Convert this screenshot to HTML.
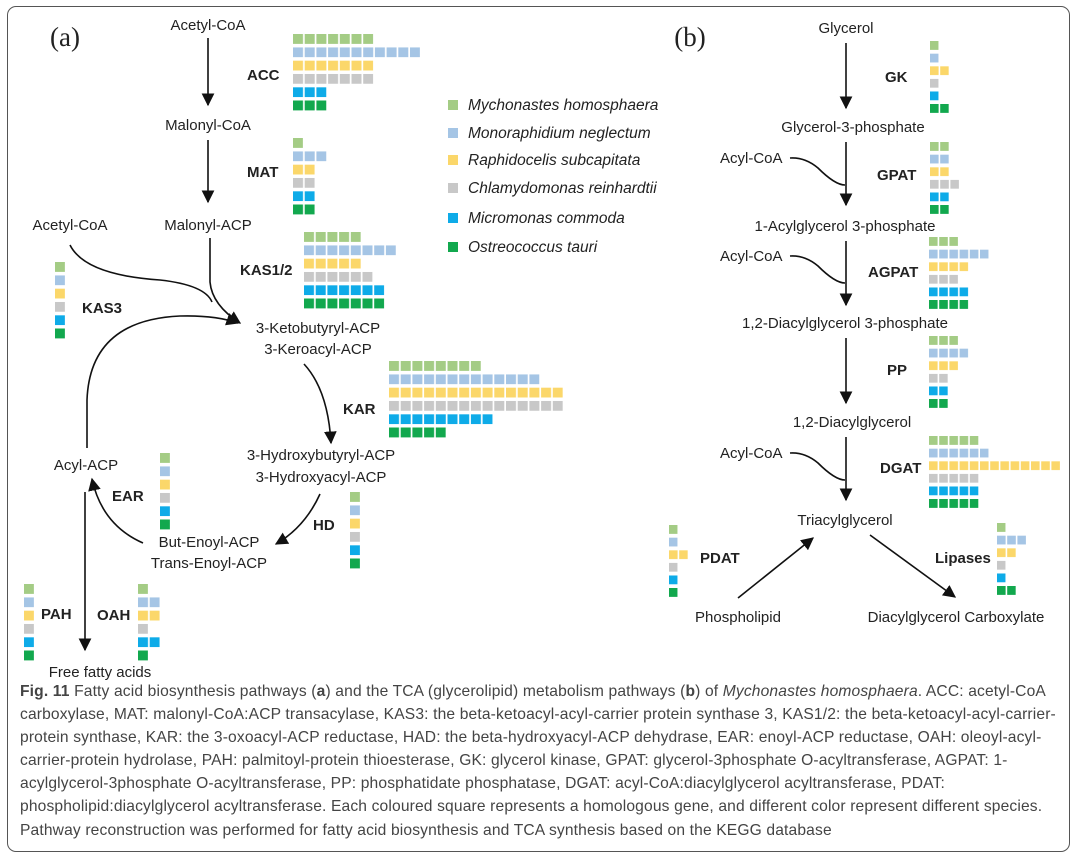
<!DOCTYPE html>
<html><head><meta charset="utf-8"><style>
body{margin:0;background:#fff;width:1080px;height:860px;overflow:hidden;font-family:"Liberation Sans",sans-serif}
.frame{position:absolute;left:7px;top:6px;width:1063px;height:846px;border:1.5px solid #555;border-radius:9px;box-sizing:border-box}
.cap{position:absolute;left:20px;top:680px;font-size:15.6px;letter-spacing:0.15px;line-height:23.1px;color:#444;white-space:nowrap}
svg{position:absolute;left:0;top:0}
svg text{font-family:"Liberation Sans",sans-serif;font-size:15px;fill:#222}
.b{font-weight:bold;font-size:15px}
.i{font-style:italic;font-size:15.5px}
.s{font-family:"Liberation Serif",serif;font-size:27px}
</style></head><body>
<div class="frame"></div>
<svg width="1080" height="860" viewBox="0 0 1080 860">
<defs>
<marker id="ah" viewBox="0 0 10 10" refX="9" refY="5" markerWidth="8" markerHeight="8" orient="auto"><path d="M0,0L10,5L0,10z" fill="#111"/></marker>
<pattern id="c0" width="11.7" height="13.3" patternUnits="userSpaceOnUse"><rect width="10" height="10" fill="#a4cc85"/></pattern>
<pattern id="c1" width="11.7" height="13.3" patternUnits="userSpaceOnUse"><rect width="10" height="10" fill="#a5c5e5"/></pattern>
<pattern id="c2" width="11.7" height="13.3" patternUnits="userSpaceOnUse"><rect width="10" height="10" fill="#fbd76a"/></pattern>
<pattern id="c3" width="11.7" height="13.3" patternUnits="userSpaceOnUse"><rect width="10" height="10" fill="#c8c8c8"/></pattern>
<pattern id="c4" width="11.7" height="13.3" patternUnits="userSpaceOnUse"><rect width="10" height="10" fill="#0eabe8"/></pattern>
<pattern id="c5" width="11.7" height="13.3" patternUnits="userSpaceOnUse"><rect width="10" height="10" fill="#12a84e"/></pattern>
<pattern id="d0" width="10.2" height="12.6" patternUnits="userSpaceOnUse"><rect width="8.6" height="9" fill="#a4cc85"/></pattern>
<pattern id="d1" width="10.2" height="12.6" patternUnits="userSpaceOnUse"><rect width="8.6" height="9" fill="#a5c5e5"/></pattern>
<pattern id="d2" width="10.2" height="12.6" patternUnits="userSpaceOnUse"><rect width="8.6" height="9" fill="#fbd76a"/></pattern>
<pattern id="d3" width="10.2" height="12.6" patternUnits="userSpaceOnUse"><rect width="8.6" height="9" fill="#c8c8c8"/></pattern>
<pattern id="d4" width="10.2" height="12.6" patternUnits="userSpaceOnUse"><rect width="8.6" height="9" fill="#0eabe8"/></pattern>
<pattern id="d5" width="10.2" height="12.6" patternUnits="userSpaceOnUse"><rect width="8.6" height="9" fill="#12a84e"/></pattern>
</defs>
<g fill="none" stroke="#111" stroke-width="1.6">
<path d="M208,38V105" marker-end="url(#ah)"/>
<path d="M208,140V202" marker-end="url(#ah)"/>
<path d="M210,238V282Q212,305 240,323" marker-end="url(#ah)"/>
<path d="M70,245Q85,275 160,280Q205,285 212,302"/>
<path d="M87,448V400Q90,320 180,316Q215,315 238,323" marker-end="url(#ah)"/>
<path d="M304,364Q328,390 331,443" marker-end="url(#ah)"/>
<path d="M320,494Q305,527 276,544" marker-end="url(#ah)"/>
<path d="M143,543Q102,525 92,479" marker-end="url(#ah)"/>
<path d="M85,492V650" marker-end="url(#ah)"/>
<path d="M846,43V108" marker-end="url(#ah)"/>
<path d="M846,142V205" marker-end="url(#ah)"/>
<path d="M790,158Q805,157 818,168Q835,185 845,185"/>
<path d="M846,241V305" marker-end="url(#ah)"/>
<path d="M790,256Q805,255 818,266Q835,283 845,283"/>
<path d="M846,338V403" marker-end="url(#ah)"/>
<path d="M846,437V500" marker-end="url(#ah)"/>
<path d="M790,453Q805,452 818,463Q835,480 845,480"/>
<path d="M738,598L813,538" marker-end="url(#ah)"/>
<path d="M870,535L955,597" marker-end="url(#ah)"/>
</g>
<g>
<text x="65" y="46" class="s" text-anchor="middle">(a)</text>
<text x="690" y="46" class="s" text-anchor="middle">(b)</text>
<g text-anchor="middle">
<text x="208" y="30">Acetyl-CoA</text>
<text x="208" y="130">Malonyl-CoA</text>
<text x="208" y="230">Malonyl-ACP</text>
<text x="70" y="230">Acetyl-CoA</text>
<text x="318" y="333">3-Ketobutyryl-ACP</text>
<text x="318" y="354">3-Keroacyl-ACP</text>
<text x="321" y="460">3-Hydroxybutyryl-ACP</text>
<text x="321" y="482">3-Hydroxyacyl-ACP</text>
<text x="209" y="547">But-Enoyl-ACP</text>
<text x="209" y="568">Trans-Enoyl-ACP</text>
<text x="86" y="470">Acyl-ACP</text>
<text x="100" y="677">Free fatty acids</text>
<text x="846" y="33">Glycerol</text>
<text x="853" y="132">Glycerol-3-phosphate</text>
<text x="845" y="231">1-Acylglycerol 3-phosphate</text>
<text x="845" y="328">1,2-Diacylglycerol 3-phosphate</text>
<text x="852" y="427">1,2-Diacylglycerol</text>
<text x="845" y="525">Triacylglycerol</text>
<text x="738" y="622">Phospholipid</text>
<text x="956" y="622">Diacylglycerol Carboxylate</text>
</g>
<text x="720" y="163">Acyl-CoA</text>
<text x="720" y="261">Acyl-CoA</text>
<text x="720" y="458">Acyl-CoA</text>
<text x="247" y="80" class="b">ACC</text>
<text x="247" y="177" class="b">MAT</text>
<text x="240" y="275" class="b">KAS1/2</text>
<text x="82" y="313" class="b">KAS3</text>
<text x="343" y="414" class="b">KAR</text>
<text x="313" y="530" class="b">HD</text>
<text x="112" y="501" class="b">EAR</text>
<text x="41" y="619" class="b">PAH</text>
<text x="97" y="620" class="b">OAH</text>
<text x="885" y="82" class="b">GK</text>
<text x="877" y="180" class="b">GPAT</text>
<text x="868" y="277" class="b">AGPAT</text>
<text x="887" y="375" class="b">PP</text>
<text x="880" y="473" class="b">DGAT</text>
<text x="700" y="563" class="b">PDAT</text>
<text x="935" y="563" class="b">Lipases</text>
<text x="468" y="110" class="i">Mychonastes homosphaera</text>
<text x="468" y="138" class="i">Monoraphidium neglectum</text>
<text x="468" y="165" class="i">Raphidocelis subcapitata</text>
<text x="468" y="193" class="i">Chlamydomonas reinhardtii</text>
<text x="468" y="223" class="i">Micromonas commoda</text>
<text x="468" y="252" class="i">Ostreococcus tauri</text>
</g>
<rect x="448" y="100" width="10" height="10" fill="#a4cc85"/>
<rect x="448" y="128" width="10" height="10" fill="#a5c5e5"/>
<rect x="448" y="155" width="10" height="10" fill="#fbd76a"/>
<rect x="448" y="183" width="10" height="10" fill="#c8c8c8"/>
<rect x="448" y="213" width="10" height="10" fill="#0eabe8"/>
<rect x="448" y="242" width="10" height="10" fill="#12a84e"/>
<g transform="translate(293,34)"><rect y="0" width="80.2" height="10" fill="url(#c0)"/><rect y="13.3" width="127" height="10" fill="url(#c1)"/><rect y="26.6" width="80.2" height="10" fill="url(#c2)"/><rect y="39.9" width="80.2" height="10" fill="url(#c3)"/><rect y="53.2" width="33.4" height="10" fill="url(#c4)"/><rect y="66.5" width="33.4" height="10" fill="url(#c5)"/></g>
<g transform="translate(293,138)"><rect y="0" width="10" height="10" fill="url(#c0)"/><rect y="13.3" width="33.4" height="10" fill="url(#c1)"/><rect y="26.6" width="21.7" height="10" fill="url(#c2)"/><rect y="39.9" width="21.7" height="10" fill="url(#c3)"/><rect y="53.2" width="21.7" height="10" fill="url(#c4)"/><rect y="66.5" width="21.7" height="10" fill="url(#c5)"/></g>
<g transform="translate(304,232)"><rect y="0" width="56.8" height="10" fill="url(#c0)"/><rect y="13.3" width="91.9" height="10" fill="url(#c1)"/><rect y="26.6" width="56.8" height="10" fill="url(#c2)"/><rect y="39.9" width="68.5" height="10" fill="url(#c3)"/><rect y="53.2" width="80.2" height="10" fill="url(#c4)"/><rect y="66.5" width="80.2" height="10" fill="url(#c5)"/></g>
<g transform="translate(55,262)"><rect y="0" width="10" height="10" fill="url(#c0)"/><rect y="13.3" width="10" height="10" fill="url(#c1)"/><rect y="26.6" width="10" height="10" fill="url(#c2)"/><rect y="39.9" width="10" height="10" fill="url(#c3)"/><rect y="53.2" width="10" height="10" fill="url(#c4)"/><rect y="66.5" width="10" height="10" fill="url(#c5)"/></g>
<g transform="translate(389,361)"><rect y="0" width="91.9" height="10" fill="url(#c0)"/><rect y="13.3" width="150.4" height="10" fill="url(#c1)"/><rect y="26.6" width="173.8" height="10" fill="url(#c2)"/><rect y="39.9" width="173.8" height="10" fill="url(#c3)"/><rect y="53.2" width="103.6" height="10" fill="url(#c4)"/><rect y="66.5" width="56.8" height="10" fill="url(#c5)"/></g>
<g transform="translate(160,453)"><rect y="0" width="10" height="10" fill="url(#c0)"/><rect y="13.3" width="10" height="10" fill="url(#c1)"/><rect y="26.6" width="10" height="10" fill="url(#c2)"/><rect y="39.9" width="10" height="10" fill="url(#c3)"/><rect y="53.2" width="10" height="10" fill="url(#c4)"/><rect y="66.5" width="10" height="10" fill="url(#c5)"/></g>
<g transform="translate(350,492)"><rect y="0" width="10" height="10" fill="url(#c0)"/><rect y="13.3" width="10" height="10" fill="url(#c1)"/><rect y="26.6" width="10" height="10" fill="url(#c2)"/><rect y="39.9" width="10" height="10" fill="url(#c3)"/><rect y="53.2" width="10" height="10" fill="url(#c4)"/><rect y="66.5" width="10" height="10" fill="url(#c5)"/></g>
<g transform="translate(24,584)"><rect y="0" width="10" height="10" fill="url(#c0)"/><rect y="13.3" width="10" height="10" fill="url(#c1)"/><rect y="26.6" width="10" height="10" fill="url(#c2)"/><rect y="39.9" width="10" height="10" fill="url(#c3)"/><rect y="53.2" width="10" height="10" fill="url(#c4)"/><rect y="66.5" width="10" height="10" fill="url(#c5)"/></g>
<g transform="translate(138,584)"><rect y="0" width="10" height="10" fill="url(#c0)"/><rect y="13.3" width="21.7" height="10" fill="url(#c1)"/><rect y="26.6" width="21.7" height="10" fill="url(#c2)"/><rect y="39.9" width="10" height="10" fill="url(#c3)"/><rect y="53.2" width="21.7" height="10" fill="url(#c4)"/><rect y="66.5" width="10" height="10" fill="url(#c5)"/></g>
<g transform="translate(930,41)"><rect y="0" width="8.6" height="9" fill="url(#d0)"/><rect y="12.6" width="8.6" height="9" fill="url(#d1)"/><rect y="25.2" width="18.8" height="9" fill="url(#d2)"/><rect y="37.8" width="8.6" height="9" fill="url(#d3)"/><rect y="50.4" width="8.6" height="9" fill="url(#d4)"/><rect y="63" width="18.8" height="9" fill="url(#d5)"/></g>
<g transform="translate(930,142)"><rect y="0" width="18.8" height="9" fill="url(#d0)"/><rect y="12.6" width="18.8" height="9" fill="url(#d1)"/><rect y="25.2" width="18.8" height="9" fill="url(#d2)"/><rect y="37.8" width="29" height="9" fill="url(#d3)"/><rect y="50.4" width="18.8" height="9" fill="url(#d4)"/><rect y="63" width="18.8" height="9" fill="url(#d5)"/></g>
<g transform="translate(929,237)"><rect y="0" width="29" height="9" fill="url(#d0)"/><rect y="12.6" width="59.6" height="9" fill="url(#d1)"/><rect y="25.2" width="39.2" height="9" fill="url(#d2)"/><rect y="37.8" width="29" height="9" fill="url(#d3)"/><rect y="50.4" width="39.2" height="9" fill="url(#d4)"/><rect y="63" width="39.2" height="9" fill="url(#d5)"/></g>
<g transform="translate(929,336)"><rect y="0" width="29" height="9" fill="url(#d0)"/><rect y="12.6" width="39.2" height="9" fill="url(#d1)"/><rect y="25.2" width="29" height="9" fill="url(#d2)"/><rect y="37.8" width="18.8" height="9" fill="url(#d3)"/><rect y="50.4" width="18.8" height="9" fill="url(#d4)"/><rect y="63" width="18.8" height="9" fill="url(#d5)"/></g>
<g transform="translate(929,436)"><rect y="0" width="49.4" height="9" fill="url(#d0)"/><rect y="12.6" width="59.6" height="9" fill="url(#d1)"/><rect y="25.2" width="131" height="9" fill="url(#d2)"/><rect y="37.8" width="49.4" height="9" fill="url(#d3)"/><rect y="50.4" width="49.4" height="9" fill="url(#d4)"/><rect y="63" width="49.4" height="9" fill="url(#d5)"/></g>
<g transform="translate(997,523)"><rect y="0" width="8.6" height="9" fill="url(#d0)"/><rect y="12.6" width="29" height="9" fill="url(#d1)"/><rect y="25.2" width="18.8" height="9" fill="url(#d2)"/><rect y="37.8" width="8.6" height="9" fill="url(#d3)"/><rect y="50.4" width="8.6" height="9" fill="url(#d4)"/><rect y="63" width="18.8" height="9" fill="url(#d5)"/></g>
<g transform="translate(669,525)"><rect y="0" width="8.6" height="9" fill="url(#d0)"/><rect y="12.6" width="8.6" height="9" fill="url(#d1)"/><rect y="25.2" width="18.8" height="9" fill="url(#d2)"/><rect y="37.8" width="8.6" height="9" fill="url(#d3)"/><rect y="50.4" width="8.6" height="9" fill="url(#d4)"/><rect y="63" width="8.6" height="9" fill="url(#d5)"/></g>
</svg>
<div class="cap">
<div><b>Fig. 11</b> Fatty acid biosynthesis pathways (<b>a</b>) and the TCA (glycerolipid) metabolism pathways (<b>b</b>) of <i>Mychonastes homosphaera</i>. ACC: acetyl-CoA</div>
<div>carboxylase, MAT: malonyl-CoA:ACP transacylase, KAS3: the beta-ketoacyl-acyl-carrier protein synthase 3, KAS1/2: the beta-ketoacyl-acyl-carrier-</div>
<div>protein synthase, KAR: the 3-oxoacyl-ACP reductase, HAD: the beta-hydroxyacyl-ACP dehydrase, EAR: enoyl-ACP reductase, OAH: oleoyl-acyl-</div>
<div>carrier-protein hydrolase, PAH: palmitoyl-protein thioesterase, GK: glycerol kinase, GPAT: glycerol-3phosphate O-acyltransferase, AGPAT: 1-</div>
<div>acylglycerol-3phosphate O-acyltransferase, PP: phosphatidate phosphatase, DGAT: acyl-CoA:diacylglycerol acyltransferase, PDAT:</div>
<div>phospholipid:diacylglycerol acyltransferase. Each coloured square represents a homologous gene, and different color represent different species.</div>
<div>Pathway reconstruction was performed for fatty acid biosynthesis and TCA synthesis based on the KEGG database</div>
</div>
</body></html>
